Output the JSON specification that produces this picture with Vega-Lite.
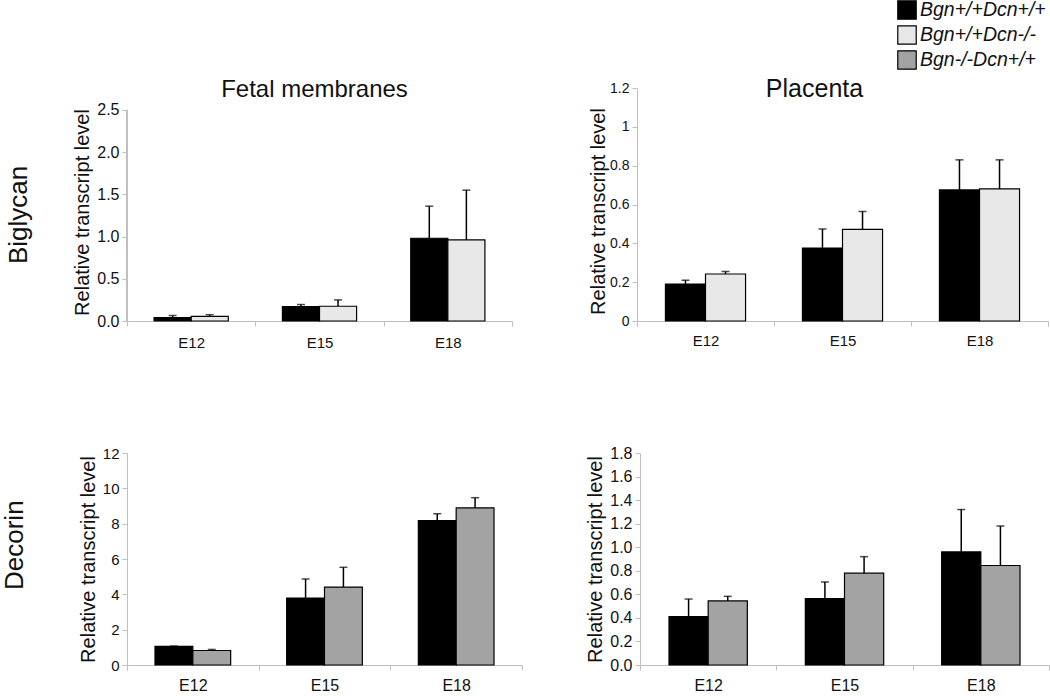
{
  "$schema": "https://vega.github.io/schema/vega-lite/v6.json",
  "background": "white",
  "padding": {"left": 2, "top": 0, "right": 0, "bottom": 0},
  "config": {
    "font": "Liberation Sans",
    "view": {"stroke": null},
    "axis": {"grid": false, "domainColor": "#bfbfbf", "tickColor": "#bfbfbf", "labelColor": "#111111", "titleColor": "#111111", "titleFontWeight": "normal", "tickSize": 5, "labelOverlap": false, "labelFontSize": 15},
    "axisY": {"titleFontSize": 20, "titlePadding": 4, "labelPadding": 3},
    "axisX": {"labelPadding": 7},
    "title": {"fontWeight": "normal", "color": "#111111"}
  },
  "data": {"values": [
    {"gene": "Biglycan", "tissue": "Fetal membranes", "stage": "E12", "genotype": "Bgn+/+Dcn+/+", "value": 0.04, "upper": 0.065},
    {"gene": "Biglycan", "tissue": "Fetal membranes", "stage": "E12", "genotype": "Bgn+/+Dcn-/-", "value": 0.055, "upper": 0.075},
    {"gene": "Biglycan", "tissue": "Fetal membranes", "stage": "E15", "genotype": "Bgn+/+Dcn+/+", "value": 0.17, "upper": 0.195},
    {"gene": "Biglycan", "tissue": "Fetal membranes", "stage": "E15", "genotype": "Bgn+/+Dcn-/-", "value": 0.175, "upper": 0.25},
    {"gene": "Biglycan", "tissue": "Fetal membranes", "stage": "E18", "genotype": "Bgn+/+Dcn+/+", "value": 0.98, "upper": 1.36},
    {"gene": "Biglycan", "tissue": "Fetal membranes", "stage": "E18", "genotype": "Bgn+/+Dcn-/-", "value": 0.96, "upper": 1.55},
    {"gene": "Biglycan", "tissue": "Placenta", "stage": "E12", "genotype": "Bgn+/+Dcn+/+", "value": 0.19, "upper": 0.21},
    {"gene": "Biglycan", "tissue": "Placenta", "stage": "E12", "genotype": "Bgn+/+Dcn-/-", "value": 0.242, "upper": 0.255},
    {"gene": "Biglycan", "tissue": "Placenta", "stage": "E15", "genotype": "Bgn+/+Dcn+/+", "value": 0.376, "upper": 0.474},
    {"gene": "Biglycan", "tissue": "Placenta", "stage": "E15", "genotype": "Bgn+/+Dcn-/-", "value": 0.472, "upper": 0.564},
    {"gene": "Biglycan", "tissue": "Placenta", "stage": "E18", "genotype": "Bgn+/+Dcn+/+", "value": 0.675, "upper": 0.83},
    {"gene": "Biglycan", "tissue": "Placenta", "stage": "E18", "genotype": "Bgn+/+Dcn-/-", "value": 0.68, "upper": 0.83},
    {"gene": "Decorin", "tissue": "Fetal membranes", "stage": "E12", "genotype": "Bgn+/+Dcn+/+", "value": 1.05, "upper": 1.07},
    {"gene": "Decorin", "tissue": "Fetal membranes", "stage": "E12", "genotype": "Bgn-/-Dcn+/+", "value": 0.82, "upper": 0.88},
    {"gene": "Decorin", "tissue": "Fetal membranes", "stage": "E15", "genotype": "Bgn+/+Dcn+/+", "value": 3.79, "upper": 4.87},
    {"gene": "Decorin", "tissue": "Fetal membranes", "stage": "E15", "genotype": "Bgn-/-Dcn+/+", "value": 4.41, "upper": 5.53},
    {"gene": "Decorin", "tissue": "Fetal membranes", "stage": "E18", "genotype": "Bgn+/+Dcn+/+", "value": 8.18, "upper": 8.56},
    {"gene": "Decorin", "tissue": "Fetal membranes", "stage": "E18", "genotype": "Bgn-/-Dcn+/+", "value": 8.89, "upper": 9.47},
    {"gene": "Decorin", "tissue": "Placenta", "stage": "E12", "genotype": "Bgn+/+Dcn+/+", "value": 0.41, "upper": 0.56},
    {"gene": "Decorin", "tissue": "Placenta", "stage": "E12", "genotype": "Bgn-/-Dcn+/+", "value": 0.544, "upper": 0.583},
    {"gene": "Decorin", "tissue": "Placenta", "stage": "E15", "genotype": "Bgn+/+Dcn+/+", "value": 0.564, "upper": 0.705},
    {"gene": "Decorin", "tissue": "Placenta", "stage": "E15", "genotype": "Bgn-/-Dcn+/+", "value": 0.78, "upper": 0.92},
    {"gene": "Decorin", "tissue": "Placenta", "stage": "E18", "genotype": "Bgn+/+Dcn+/+", "value": 0.96, "upper": 1.32},
    {"gene": "Decorin", "tissue": "Placenta", "stage": "E18", "genotype": "Bgn-/-Dcn+/+", "value": 0.845, "upper": 1.18}
  ]},
  "spacing": 95,
  "resolve": {"scale": {"x": "independent", "y": "independent", "xOffset": "independent", "color": "independent"}, "legend": {"color": "independent"}},
  "vconcat": [
    {
      "title": {"text": "Biglycan", "orient": "left", "fontSize": 26, "offset": 41, "dx": 86},
      "spacing": 75,
      "resolve": {"scale": {"x": "independent", "y": "independent", "xOffset": "independent", "color": "independent"}, "legend": {"color": "independent"}},
      "hconcat": [
        {
          "width": 385, "height": 233,
          "transform": [{"filter": "datum.gene === 'Biglycan' && datum.tissue === 'Fetal membranes'"}],
          "resolve": {"axis": {"x": "independent"}},
          "layer": [
            {
              "mark": {"type": "rule", "color": "#bfbfbf", "strokeWidth": 1},
              "encoding": {
                "x": {"datum": "E12", "type": "nominal", "bandPosition": 0, "scale": {"paddingInner": 0, "paddingOuter": 0}, "axis": null},
                "y": {"datum": 0, "type": "quantitative", "scale": {"domain": [0, 2.76], "nice": false}},
                "y2": {"datum": 2.5}
              }
            },
            {
              "mark": {"type": "bar", "stroke": "black", "strokeWidth": 1.2},
              "encoding": {
                "x": {"field": "stage", "type": "nominal", "title": null, "scale": {"paddingInner": 0, "paddingOuter": 0}, "axis": {"labelAngle": 0, "tickBand": "extent", "labelFontSize": 15, "labelPadding": 9}},
                "xOffset": {"field": "genotype", "type": "nominal", "scale": {"paddingInner": 0, "paddingOuter": 0.73}},
                "y": {"field": "value", "type": "quantitative", "scale": {"domain": [0, 2.76], "nice": false}, "axis": {"values": [0, 0.5, 1, 1.5, 2, 2.5], "tickCount": 30, "format": ".1f", "labelFontSize": 16, "title": "Relative transcript level", "titleY": 124, "domain": false}},
                "color": {"field": "genotype", "type": "nominal", "scale": {"domain": ["Bgn+/+Dcn+/+", "Bgn+/+Dcn-/-", "Bgn-/-Dcn+/+"], "range": ["#000000", "#e8e8e8", "#a3a3a3"]}, "legend": null}
              }
            },
            {
              "mark": {"type": "rule", "color": "black", "strokeWidth": 1.5},
              "encoding": {
                "x": {"field": "stage", "type": "nominal", "scale": {"paddingInner": 0, "paddingOuter": 0}, "axis": null},
                "xOffset": {"field": "genotype", "type": "nominal", "scale": {"paddingInner": 0, "paddingOuter": 0.73}},
                "y": {"field": "value", "type": "quantitative", "scale": {"domain": [0, 2.76], "nice": false}},
                "y2": {"field": "upper"}
              }
            },
            {
              "mark": {"type": "tick", "color": "black", "thickness": 1.5, "size": 8},
              "encoding": {
                "x": {"field": "stage", "type": "nominal", "scale": {"paddingInner": 0, "paddingOuter": 0}, "axis": {"orient": "top", "title": "Fetal membranes", "labels": false, "ticks": false, "domain": false, "titleFontSize": 24, "titleY": 8, "titleX": 187, "titleBaseline": "alphabetic", "titleAlign": "center", "titleAngle": 0}},
                "xOffset": {"field": "genotype", "type": "nominal", "scale": {"paddingInner": 0, "paddingOuter": 0.73}},
                "y": {"field": "upper", "type": "quantitative", "scale": {"domain": [0, 2.76], "nice": false}}
              }
            }
          ]
        },
        {
          "width": 411, "height": 233,
          "transform": [{"filter": "datum.gene === 'Biglycan' && datum.tissue === 'Placenta'"}],
          "resolve": {"axis": {"x": "independent"}},
          "encoding": {
            "xOffset": {"field": "genotype", "type": "nominal", "scale": {"paddingInner": 0, "paddingOuter": 0.71}}
          },
          "layer": [
            {
              "mark": {"type": "bar", "stroke": "black", "strokeWidth": 1.2},
              "encoding": {
                "x": {"field": "stage", "type": "nominal", "title": null, "scale": {"paddingInner": 0, "paddingOuter": 0}, "axis": {"labelAngle": 0, "tickBand": "extent", "labelFontSize": 15}},
                "y": {"field": "value", "type": "quantitative", "scale": {"domain": [0, 1.2], "nice": false}, "axis": {"values": [0, 0.2, 0.4, 0.6, 0.8, 1, 1.2], "tickCount": 30, "format": "~g", "labelFontSize": 14, "title": "Relative transcript level", "titleY": 123, "titlePadding": 1}},
                "color": {"field": "genotype", "type": "nominal", "scale": {"domain": ["Bgn+/+Dcn+/+", "Bgn+/+Dcn-/-", "Bgn-/-Dcn+/+"], "range": ["#000000", "#e8e8e8", "#a3a3a3"]},
                  "legend": {"orient": "none", "legendX": 260, "legendY": -88, "title": null, "padding": 0, "rowPadding": 1, "symbolType": "square", "symbolSize": 340, "symbolStrokeColor": "black", "symbolStrokeWidth": 1.2, "labelFontSize": 19.5, "labelFontStyle": "italic", "labelOffset": 3, "labelColor": "#111111"}}
              }
            },
            {
              "mark": {"type": "rule", "color": "black", "strokeWidth": 1.5},
              "encoding": {
                "x": {"field": "stage", "type": "nominal", "scale": {"paddingInner": 0, "paddingOuter": 0}, "axis": null},
                "y": {"field": "value", "type": "quantitative", "scale": {"domain": [0, 1.2], "nice": false}},
                "y2": {"field": "upper"}
              }
            },
            {
              "mark": {"type": "tick", "color": "black", "thickness": 1.5, "size": 8},
              "encoding": {
                "x": {"field": "stage", "type": "nominal", "scale": {"paddingInner": 0, "paddingOuter": 0}, "axis": {"orient": "top", "title": "Placenta", "labels": false, "ticks": false, "domain": false, "titleFontSize": 25, "titleY": 8, "titleX": 177, "titleBaseline": "alphabetic", "titleAlign": "center", "titleAngle": 0}},
                "y": {"field": "upper", "type": "quantitative", "scale": {"domain": [0, 1.2], "nice": false}}
              }
            }
          ]
        }
      ]
    },
    {
      "title": {"text": "Decorin", "orient": "left", "fontSize": 26, "offset": 50, "dx": 103},
      "spacing": 62,
      "resolve": {"scale": {"x": "independent", "y": "independent", "xOffset": "independent", "color": "independent"}, "legend": {"color": "independent"}},
      "hconcat": [
        {
          "width": 395, "height": 212,
          "transform": [{"filter": "datum.gene === 'Decorin' && datum.tissue === 'Fetal membranes'"}],
          "encoding": {
            "x": {"field": "stage", "type": "nominal", "title": null, "scale": {"paddingInner": 0, "paddingOuter": 0}, "axis": {"labelAngle": 0, "tickBand": "extent", "labelFontSize": 16}},
            "xOffset": {"field": "genotype", "type": "nominal", "scale": {"paddingInner": 0, "paddingOuter": 0.74}}
          },
          "layer": [
            {
              "mark": {"type": "bar", "stroke": "black", "strokeWidth": 1.2},
              "encoding": {
                "y": {"field": "value", "type": "quantitative", "scale": {"domain": [0, 12], "nice": false}, "axis": {"values": [0, 2, 4, 6, 8, 10, 12], "tickCount": 30, "format": "d", "labelFontSize": 15, "title": "Relative transcript level"}},
                "color": {"field": "genotype", "type": "nominal", "scale": {"domain": ["Bgn+/+Dcn+/+", "Bgn+/+Dcn-/-", "Bgn-/-Dcn+/+"], "range": ["#000000", "#e8e8e8", "#a3a3a3"]}, "legend": null}
              }
            },
            {
              "mark": {"type": "rule", "color": "black", "strokeWidth": 1.5},
              "encoding": {"y": {"field": "value", "type": "quantitative", "scale": {"domain": [0, 12], "nice": false}}, "y2": {"field": "upper"}}
            },
            {
              "mark": {"type": "tick", "color": "black", "thickness": 1.5, "size": 8},
              "encoding": {"y": {"field": "upper", "type": "quantitative", "scale": {"domain": [0, 12], "nice": false}}}
            }
          ]
        },
        {
          "width": 409, "height": 212,
          "transform": [{"filter": "datum.gene === 'Decorin' && datum.tissue === 'Placenta'"}],
          "encoding": {
            "x": {"field": "stage", "type": "nominal", "title": null, "scale": {"paddingInner": 0, "paddingOuter": 0}, "axis": {"labelAngle": 0, "tickBand": "extent", "labelFontSize": 16}},
            "xOffset": {"field": "genotype", "type": "nominal", "scale": {"paddingInner": 0, "paddingOuter": 0.74}}
          },
          "layer": [
            {
              "mark": {"type": "bar", "stroke": "black", "strokeWidth": 1.2},
              "encoding": {
                "y": {"field": "value", "type": "quantitative", "scale": {"domain": [0, 1.8], "nice": false}, "axis": {"values": [0, 0.2, 0.4, 0.6, 0.8, 1, 1.2, 1.4, 1.6, 1.8], "tickCount": 30, "format": ".1f", "labelFontSize": 16, "title": "Relative transcript level"}},
                "color": {"field": "genotype", "type": "nominal", "scale": {"domain": ["Bgn+/+Dcn+/+", "Bgn+/+Dcn-/-", "Bgn-/-Dcn+/+"], "range": ["#000000", "#e8e8e8", "#a3a3a3"]}, "legend": null}
              }
            },
            {
              "mark": {"type": "rule", "color": "black", "strokeWidth": 1.5},
              "encoding": {"y": {"field": "value", "type": "quantitative", "scale": {"domain": [0, 1.8], "nice": false}}, "y2": {"field": "upper"}}
            },
            {
              "mark": {"type": "tick", "color": "black", "thickness": 1.5, "size": 8},
              "encoding": {"y": {"field": "upper", "type": "quantitative", "scale": {"domain": [0, 1.8], "nice": false}}}
            }
          ]
        }
      ]
    }
  ]
}
